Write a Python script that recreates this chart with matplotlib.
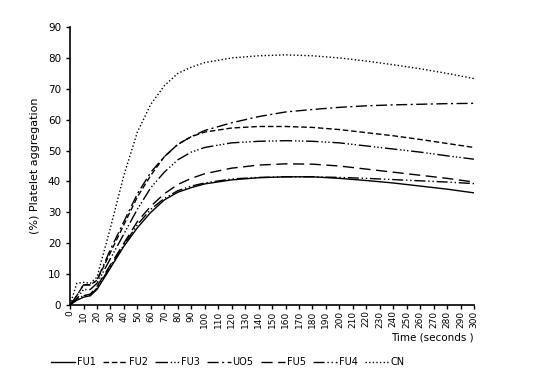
import matplotlib
matplotlib.use("Agg")
import matplotlib.pyplot as plt

# time points (seconds)
t = [0, 5, 10, 15, 20, 30, 40, 50, 60, 70, 80, 90, 100, 120, 140, 160, 180, 200, 220, 240, 260, 280, 300]

fu1 = [0, 1.5, 2.5, 3, 5, 12, 19, 25, 30, 34, 36.5, 38, 39.2, 40.5, 41.2, 41.5, 41.5, 41, 40.3, 39.5, 38.5, 37.5, 36.3]
fu2 = [0, 3, 6.5, 6.5, 8, 17, 26, 35, 42, 48, 52, 54.5, 56, 57.3, 57.8, 57.8, 57.5, 56.8, 55.8, 54.8, 53.6, 52.3, 51]
fu3 = [0, 2, 5, 5, 7, 15, 23, 31, 38, 43, 47, 49.5, 51, 52.5, 53, 53.2, 53, 52.5, 51.5, 50.5, 49.5, 48.3, 47.2]
uo5 = [0, 3, 6.5, 6.5, 8, 18, 27, 36, 43, 48, 52, 54.5, 56.5, 59, 61, 62.5, 63.3, 64, 64.5, 64.8, 65, 65.2, 65.3]
fu5 = [0, 2, 3, 3.5, 6, 13, 20, 27, 32, 36, 39, 41, 42.5, 44.3, 45.3, 45.7, 45.6, 45, 44, 43, 42, 41, 39.8]
fu4 = [0, 2, 3, 3, 5.5, 12.5, 19.5, 26, 31, 34.5, 37, 38.5, 39.5, 40.8, 41.3, 41.5, 41.5, 41.3, 41, 40.6, 40.2, 39.8, 39.3]
cn = [0, 7, 7.3, 7, 9, 25, 42, 56, 65, 71, 75, 77, 78.5, 80, 80.7, 81, 80.7, 80, 79, 77.8, 76.5, 75, 73.3]

labels = ["FU1", "FU2", "FU3", "UO5", "FU5", "FU4", "CN"]
series = [fu1, fu2, fu3, uo5, fu5, fu4, cn]
styles = ["-", (0, (4, 2)), (0, (9, 2, 1, 1.5, 1, 1.5, 1, 2)), (0, (8, 2.5, 1.5, 2.5)),
          (0, (8, 4)), (0, (8, 2, 1, 2, 1, 2)), (0, (1, 1.6))]

fig = plt.figure(figsize=(5.43, 3.76), dpi=100)
ax = fig.add_axes([0.129, 0.189, 0.744, 0.739])

for y, lab, ls in zip(series, labels, styles):
    ax.plot(t, y, color="black", linestyle=ls, linewidth=1.0, label=lab)

ax.set_xlim(0, 300)
ax.set_ylim(0, 90)
ax.set_xticks(range(0, 301, 10))
ax.set_xticklabels([str(v) for v in range(0, 301, 10)], rotation=90, fontsize=6.5)
ax.set_yticks(range(0, 91, 10))
ax.tick_params(axis="y", labelsize=7.5, length=3, width=1)
ax.tick_params(axis="x", length=3, width=1, pad=1)
ax.spines["top"].set_visible(False)
ax.spines["right"].set_visible(False)
ax.spines["left"].set_linewidth(1.2)
ax.spines["bottom"].set_linewidth(1.2)

ax.set_ylabel("(%) Platelet aggregation", fontsize=8, labelpad=6)
fig.text(0.873, 0.095, "Time (seconds )", ha="right", fontsize=7.5)

fig.legend(loc="lower center", bbox_to_anchor=(0.42, 0.0), ncol=7, frameon=False,
           fontsize=7, handlelength=2.4, handletextpad=0.2, columnspacing=0.8)

fig.savefig("out.png", dpi=100)
